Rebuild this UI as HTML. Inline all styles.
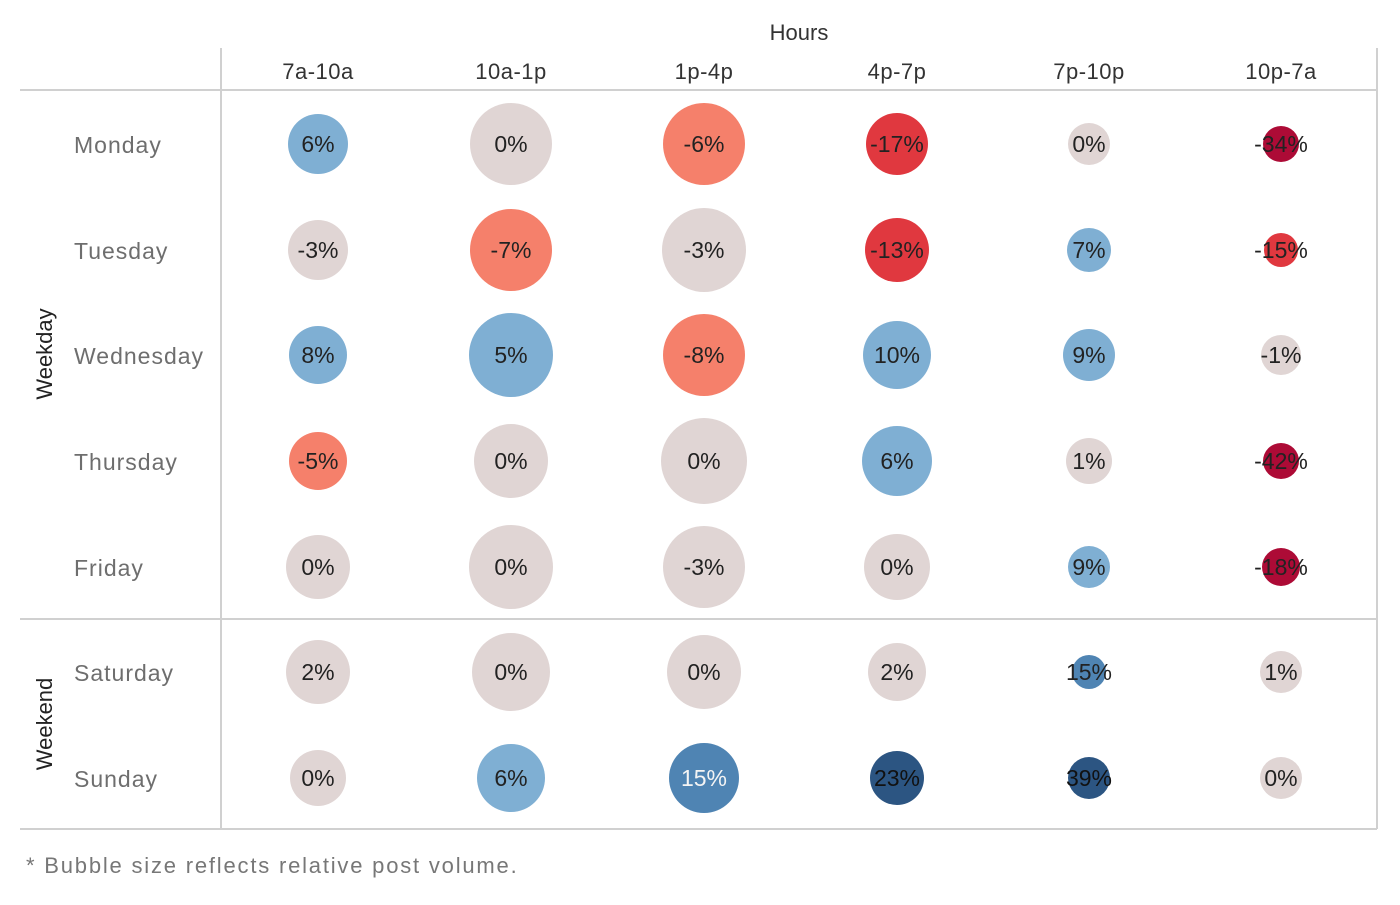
<!DOCTYPE html>
<html><head><meta charset="utf-8"><style>
body{margin:0;background:#fff;}
svg text{font-family:"Liberation Sans","DejaVu Sans",sans-serif;}
</style></head><body>
<svg width="1400" height="900" xmlns="http://www.w3.org/2000/svg">
<g stroke="#d0d0d0" stroke-width="2" fill="none">
<line x1="20" y1="90" x2="1377" y2="90"/>
<line x1="221" y1="48" x2="221" y2="830"/>
<line x1="20" y1="619" x2="1377" y2="619"/>
<line x1="20" y1="829" x2="1377" y2="829"/>
<line x1="1377" y1="48" x2="1377" y2="829"/>
</g>
<text x="799" y="40" font-size="22" fill="#333" text-anchor="middle">Hours</text>
<g font-size="22" fill="#333" text-anchor="middle" letter-spacing="0.5">
<text x="318" y="79">7a-10a</text><text x="511" y="79">10a-1p</text><text x="704" y="79">1p-4p</text>
<text x="897" y="79">4p-7p</text><text x="1089" y="79">7p-10p</text><text x="1281" y="79">10p-7a</text>
</g>
<g font-size="23" fill="#6e6e6e" letter-spacing="1">
<text x="74" y="153">Monday</text><text x="74" y="259">Tuesday</text><text x="74" y="364">Wednesday</text>
<text x="74" y="470">Thursday</text><text x="74" y="576">Friday</text><text x="74" y="681">Saturday</text><text x="74" y="787">Sunday</text>
</g>
<g font-size="22" fill="#222" text-anchor="middle">
<text transform="translate(52,354) rotate(-90)">Weekday</text>
<text transform="translate(52,724) rotate(-90)">Weekend</text>
</g>
<text x="26" y="873" font-size="22" fill="#777" letter-spacing="1.8">* Bubble size reflects relative post volume.</text>
<g font-size="23" text-anchor="middle">
<circle cx="318" cy="144" r="30" fill="#7fafd3"/><text x="318" y="152" fill="#222">6%</text>
<circle cx="511" cy="144" r="41" fill="#e0d5d4"/><text x="511" y="152" fill="#222">0%</text>
<circle cx="704" cy="144" r="41" fill="#f5806b"/><text x="704" y="152" fill="#222">-6%</text>
<circle cx="897" cy="144" r="31" fill="#e0383f"/><text x="897" y="152" fill="#222">-17%</text>
<circle cx="1089" cy="144" r="21" fill="#e0d5d4"/><text x="1089" y="152" fill="#222">0%</text>
<circle cx="1281" cy="144" r="18" fill="#ad0b36"/><text x="1281" y="152" fill="#222">-34%</text>
<circle cx="318" cy="250" r="30" fill="#e0d5d4"/><text x="318" y="258" fill="#222">-3%</text>
<circle cx="511" cy="250" r="41" fill="#f5806b"/><text x="511" y="258" fill="#222">-7%</text>
<circle cx="704" cy="250" r="42" fill="#e0d5d4"/><text x="704" y="258" fill="#222">-3%</text>
<circle cx="897" cy="250" r="32" fill="#e0383f"/><text x="897" y="258" fill="#222">-13%</text>
<circle cx="1089" cy="250" r="22" fill="#7fafd3"/><text x="1089" y="258" fill="#222">7%</text>
<circle cx="1281" cy="250" r="17" fill="#e0383f"/><text x="1281" y="258" fill="#222">-15%</text>
<circle cx="318" cy="355" r="29" fill="#7fafd3"/><text x="318" y="363" fill="#222">8%</text>
<circle cx="511" cy="355" r="42" fill="#7fafd3"/><text x="511" y="363" fill="#222">5%</text>
<circle cx="704" cy="355" r="41" fill="#f5806b"/><text x="704" y="363" fill="#222">-8%</text>
<circle cx="897" cy="355" r="34" fill="#7fafd3"/><text x="897" y="363" fill="#222">10%</text>
<circle cx="1089" cy="355" r="26" fill="#7fafd3"/><text x="1089" y="363" fill="#222">9%</text>
<circle cx="1281" cy="355" r="20" fill="#e0d5d4"/><text x="1281" y="363" fill="#222">-1%</text>
<circle cx="318" cy="461" r="29" fill="#f5806b"/><text x="318" y="469" fill="#222">-5%</text>
<circle cx="511" cy="461" r="37" fill="#e0d5d4"/><text x="511" y="469" fill="#222">0%</text>
<circle cx="704" cy="461" r="43" fill="#e0d5d4"/><text x="704" y="469" fill="#222">0%</text>
<circle cx="897" cy="461" r="35" fill="#7fafd3"/><text x="897" y="469" fill="#222">6%</text>
<circle cx="1089" cy="461" r="23" fill="#e0d5d4"/><text x="1089" y="469" fill="#222">1%</text>
<circle cx="1281" cy="461" r="18" fill="#ad0b36"/><text x="1281" y="469" fill="#222">-42%</text>
<circle cx="318" cy="567" r="32" fill="#e0d5d4"/><text x="318" y="575" fill="#222">0%</text>
<circle cx="511" cy="567" r="42" fill="#e0d5d4"/><text x="511" y="575" fill="#222">0%</text>
<circle cx="704" cy="567" r="41" fill="#e0d5d4"/><text x="704" y="575" fill="#222">-3%</text>
<circle cx="897" cy="567" r="33" fill="#e0d5d4"/><text x="897" y="575" fill="#222">0%</text>
<circle cx="1089" cy="567" r="21" fill="#7fafd3"/><text x="1089" y="575" fill="#222">9%</text>
<circle cx="1281" cy="567" r="19" fill="#ad0b36"/><text x="1281" y="575" fill="#222">-18%</text>
<circle cx="318" cy="672" r="32" fill="#e0d5d4"/><text x="318" y="680" fill="#222">2%</text>
<circle cx="511" cy="672" r="39" fill="#e0d5d4"/><text x="511" y="680" fill="#222">0%</text>
<circle cx="704" cy="672" r="37" fill="#e0d5d4"/><text x="704" y="680" fill="#222">0%</text>
<circle cx="897" cy="672" r="29" fill="#e0d5d4"/><text x="897" y="680" fill="#222">2%</text>
<circle cx="1089" cy="672" r="17" fill="#4f84b3"/><text x="1089" y="680" fill="#222">15%</text>
<circle cx="1281" cy="672" r="21" fill="#e0d5d4"/><text x="1281" y="680" fill="#222">1%</text>
<circle cx="318" cy="778" r="28" fill="#e0d5d4"/><text x="318" y="786" fill="#222">0%</text>
<circle cx="511" cy="778" r="34" fill="#7fafd3"/><text x="511" y="786" fill="#222">6%</text>
<circle cx="704" cy="778" r="35" fill="#4f84b3"/><text x="704" y="786" fill="#f4f4f4">15%</text>
<circle cx="897" cy="778" r="27" fill="#2c5582"/><text x="897" y="786" fill="#111">23%</text>
<circle cx="1089" cy="778" r="21" fill="#2c5582"/><text x="1089" y="786" fill="#111">39%</text>
<circle cx="1281" cy="778" r="21" fill="#e0d5d4"/><text x="1281" y="786" fill="#222">0%</text>
</g>
</svg>
</body></html>
